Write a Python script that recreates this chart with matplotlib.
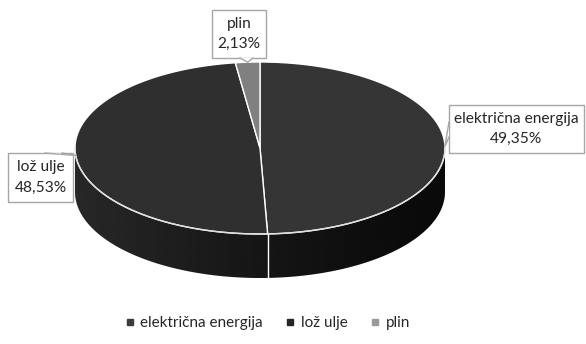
import numpy as np
import matplotlib
matplotlib.use('Agg')
import matplotlib.pyplot as plt
from matplotlib.patches import Polygon, Rectangle
from matplotlib.lines import Line2D

labels = ['električna energija', 'lož ulje', 'plin']
shares = [49.35, 48.53, 2.13]
share_text = ['49,35%', '48,53%', '2,13%']
top_colors = ['#353535', '#2f2f2f', '#808080']
legend_colors = ['#3c3c3c', '#262626', '#9a9a9a']

plt.rcParams['font.family'] = ['Lato', 'DejaVu Sans']

# pie geometry in pixel units
cx, cy, rx, ry, depth = 260, 148, 185, 86, 44


def rim(t):
    t = np.radians(t)
    return cx + rx * np.cos(t), cy - ry * np.sin(t)


fig = plt.figure(figsize=(5.86, 3.44), dpi=100)
ax = fig.add_axes([0, 0, 1, 1])
ax.set_xlim(0, 586)
ax.set_ylim(344, 0)
ax.axis('off')

total = sum(shares)
cum = np.concatenate([[0], np.cumsum(shares)])
t_start = 90 - 360 * cum[:-1] / total
t_end = 90 - 360 * cum[1:] / total

# side wall (front half) as one shape, filled with a left-to-right gradient
tt = np.linspace(-180, 0, 300)
xs, ys = rim(tt)
side_pts = list(zip(xs, ys)) + list(zip(xs[::-1], ys[::-1] + depth))
side = Polygon(side_pts, closed=True, facecolor='none', edgecolor='none')
ax.add_patch(side)
gx = np.linspace(0, 1, 256)
lv = (10 + 30 * (1 - gx) ** 1.3) / 255
grad = np.tile(lv, (2, 1))
im = ax.imshow(grad, cmap='gray', vmin=0, vmax=1, aspect='auto',
               extent=(cx - rx, cx + rx, cy + ry + depth, cy - ry), zorder=1,
               interpolation='bilinear')
im.set_clip_path(side)
ax.set_xlim(0, 586)
ax.set_ylim(344, 0)

# slice dividers on the side
for t in t_start:
    t2 = (t + 180) % 360 - 180
    if -180 < t2 < 0:
        x, y = rim(t2)
        ax.plot([x, x], [y, y + depth], color='white', lw=1, zorder=2)

# top faces
for i in range(len(shares)):
    tt = np.linspace(t_start[i], t_end[i], 200)
    xs, ys = rim(tt)
    pts = [(cx, cy)] + list(zip(xs, ys))
    ax.add_patch(Polygon(pts, closed=True, facecolor=top_colors[i],
                         edgecolor='white', lw=1, zorder=3))

# front rim highlight
tt = np.linspace(-180, 0, 200)
xs, ys = rim(tt)
ax.plot(xs, ys, color='#e0e0e0', lw=1, zorder=4)

# callout labels
boxes = [(449, 105, 135, 48), (8, 153, 65, 49), (212, 10, 54, 48)]
bases = [((449, 137), (449, 122)), ((45, 153), (62, 153)), ((240, 58), (253, 58))]
edge = '#a6a6a6'
for i in range(len(shares)):
    bx, by, bw, bh = boxes[i]
    ax.add_patch(Rectangle((bx, by), bw, bh, facecolor='white', edgecolor=edge,
                           lw=1, zorder=5))
    tip = rim((t_start[i] + t_end[i]) / 2)
    b1, b2 = bases[i]
    ax.add_patch(Polygon([b1, tip, b2], closed=True, facecolor='white',
                         edgecolor='none', zorder=6))
    ax.plot([b1[0], tip[0], b2[0]], [b1[1], tip[1], b2[1]], color=edge, lw=1,
            zorder=7)
    ax.text(bx + bw / 2, by + bh / 2 - 10, labels[i], ha='center', va='center',
            fontsize=11.2, color='#262626', zorder=8)
    ax.text(bx + bw / 2, by + bh / 2 + 10, share_text[i], ha='center', va='center',
            fontsize=11.2, color='#262626', zorder=8)

handles = [Line2D([], [], marker='s', ls='', color=c, markersize=4) for c in legend_colors]
fig.legend(handles, labels, loc='center', bbox_to_anchor=(267 / 586, 1 - 323 / 344),
           ncol=3, frameon=False, fontsize=11, handletextpad=0.3,
           columnspacing=1.4, handlelength=0.8, labelcolor='#262626')

fig.savefig('out.png', dpi=100, facecolor='white')
